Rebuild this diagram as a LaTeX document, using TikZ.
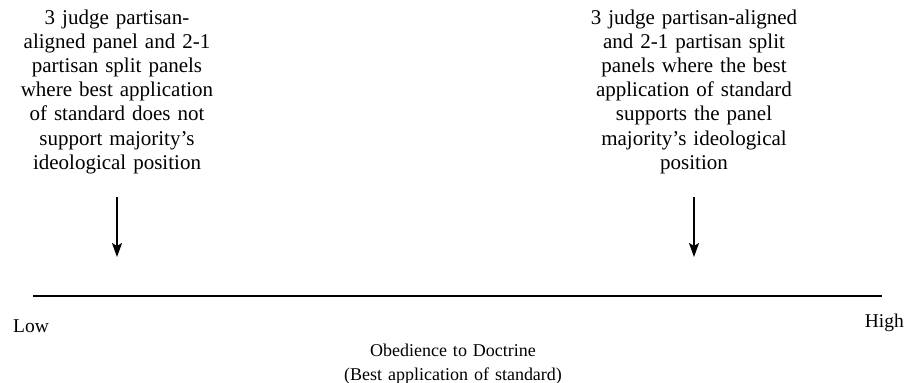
\documentclass[tikz,border=0pt]{standalone}
\usepackage{fontspec}
\setmainfont{Liberation Serif}
\usetikzlibrary{arrows.meta}
\begin{document}
\begin{tikzpicture}[x=1pt,y=-1pt,
  caption/.style={font=\fontsize{21}{24.2}\selectfont, align=center, inner sep=0pt, anchor=base},
  axislabel/.style={font=\fontsize{19.5}{24}\selectfont, inner sep=0pt, anchor=base},
  scaletitle/.style={font=\fontsize{18}{24}\selectfont, align=center, inner sep=0pt, anchor=base, text width=300pt},
  pointer/.style={line width=1.6pt, -{Stealth[length=14pt,width=10pt,inset=3pt]}},
  axis/.style={line width=2pt}]
\useasboundingbox (0,0) rectangle (906,383);
% category descriptions
\node[caption, text width=240pt] (lowtext) at (117,24)
  {3 judge partisan-\\aligned panel and 2-1\\partisan split panels\\where best application\\of standard does not\\support majority’s\\ideological position};
\node[caption, text width=260pt] (hightext) at (694,24)
  {3 judge partisan-aligned\\and 2-1 partisan split\\panels where the best\\application of standard\\supports the panel\\majority’s ideological\\position};
% pointers onto the scale
\coordinate (lowtop) at (117,197);
\coordinate (lowtip) at (117,257);
\coordinate (hightop) at (694,197);
\coordinate (hightip) at (694,257);
\draw[pointer] (lowtop) -- (lowtip);
\draw[pointer] (hightop) -- (hightip);
% scale
\coordinate (axisL) at (33,296);
\coordinate (axisR) at (882,296);
\draw[axis] (axisL) -- (axisR);
\node[axislabel, anchor=base west] (low) at (13,332) {Low};
\node[axislabel, anchor=base east] (high) at (904,327) {High};
\node[scaletitle] (title) at (453,356) {Obedience to Doctrine\\(Best application of standard)};
\end{tikzpicture}
\end{document}
